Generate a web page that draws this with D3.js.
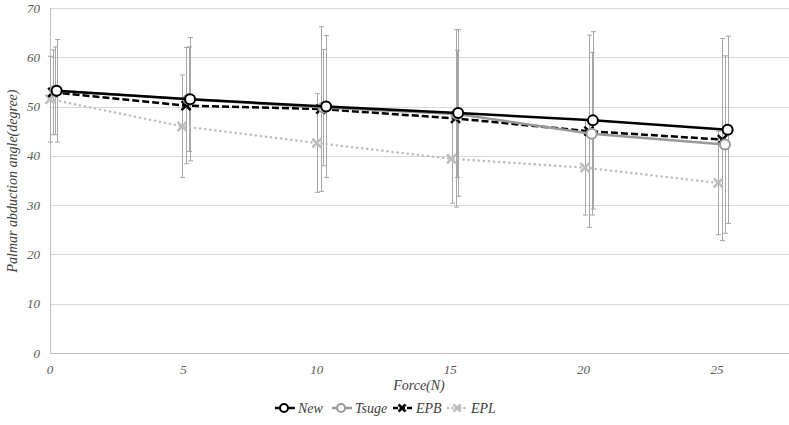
<!DOCTYPE html>
<html><head><meta charset="utf-8">
<script src="https://cdn.jsdelivr.net/npm/d3@7/dist/d3.min.js"></script>
<style>body{margin:0;background:#fff}svg{display:block}</style>
</head><body>
<svg id="c" width="789" height="425"></svg>
<script>
const seriesNames = ["New", "Tsuge", "EPB", "EPL"];
const xTicks = [0, 5, 10, 15, 20, 25];
const yTicks = [0, 10, 20, 30, 40, 50, 60, 70];
const newX = [0.25, 5.25, 10.35, 15.3, 20.35, 25.4];
const newY = [53.2, 51.5, 50.0, 48.7, 47.2, 45.3];
const newErr = [10.4, 12.5, 14.4, 16.9, 18.0, 19.0];
const tsugeX = [0.2, 5.2, 10.25, 15.25, 20.3, 25.3];
const tsugeY = [53.2, 51.5, 49.8, 48.5, 44.5, 42.3];
const tsugeErr = [8.9, 10.6, 11.8, 12.9, 16.5, 18.0];
const epbX = [0.1, 5.1, 10.15, 15.2, 20.2, 25.2];
const epbY = [52.9, 50.2, 49.5, 47.6, 45.0, 43.3];
const epbErr = [8.6, 11.8, 16.7, 18.0, 19.5, 20.5];
const eplX = [0.0, 4.95, 10.0, 15.05, 20.05, 25.05];
const eplY = [51.5, 46.0, 42.6, 39.4, 37.6, 34.5];
const eplErr = [8.7, 10.4, 10.0, 9.0, 9.6, 10.5];

const FONT = "'Times New Roman', 'Liberation Serif', 'DejaVu Serif', 'Noto Serif', serif";
const svg = d3.select("#c");
const x = d3.scaleLinear().domain([0, 27.7]).range([50, 789]);
const y = d3.scaleLinear().domain([0, 70]).range([353, 8]);
function txt(sel) {
  return sel.attr("font-family", FONT).attr("font-style", "italic");
}

svg.append("g").selectAll("line").data(yTicks.filter(d => d > 0)).join("line")
  .attr("x1", x(0)).attr("x2", 789).attr("y1", d => Math.round(y(d)) + 0.5).attr("y2", d => Math.round(y(d)) + 0.5)
  .attr("stroke", "#d9d9d9").attr("stroke-width", 1);
svg.append("line").attr("x1", x(0)).attr("x2", 789).attr("y1", y(0) + 0.5).attr("y2", y(0) + 0.5).attr("stroke", "#bfbfbf");
svg.append("line").attr("x1", x(0) + 0.5).attr("x2", x(0) + 0.5).attr("y1", y(0)).attr("y2", y(70)).attr("stroke", "#bfbfbf");

txt(svg.append("g").selectAll("text").data(yTicks).join("text")
  .attr("x", 40).attr("y", d => y(d) + 4.5).attr("text-anchor", "end")
  .attr("font-size", 13).attr("fill", "#595959").text(d => d));
txt(svg.append("g").selectAll("text").data(xTicks).join("text")
  .attr("x", d => x(d)).attr("y", 374).attr("text-anchor", "middle")
  .attr("font-size", 13).attr("fill", "#595959").text(d => d));
txt(svg.append("text").attr("x", 419).attr("y", 390).attr("text-anchor", "middle")
  .attr("font-size", 14).attr("fill", "#404040").text("Force(N)"));
txt(svg.append("text").attr("transform", "translate(17,181) rotate(-90)").attr("text-anchor", "middle")
  .attr("font-size", 14).attr("fill", "#404040").text("Palmar abduction angle(degree)"));

const series = [
  {name: "New", xs: newX, ys: newY, es: newErr, color: "#000000", dash: null, marker: "circle"},
  {name: "Tsuge", xs: tsugeX, ys: tsugeY, es: tsugeErr, color: "#999999", dash: null, marker: "circle"},
  {name: "EPB", xs: epbX, ys: epbY, es: epbErr, color: "#000000", dash: "7,3", marker: "x"},
  {name: "EPL", xs: eplX, ys: eplY, es: eplErr, color: "#bdbdbd", dash: "0.1,5", marker: "x"}
];

series.forEach(s => {
  const g = svg.append("g").attr("stroke", "#a6a6a6").attr("stroke-width", 1);
  s.xs.forEach((xv, i) => {
    const xp = Math.round(x(xv)) + 0.5;
    const t = y(s.ys[i] + s.es[i]), b = y(s.ys[i] - s.es[i]);
    g.append("line").attr("x1", xp).attr("x2", xp).attr("y1", t).attr("y2", b);
    g.append("line").attr("x1", xp - 2.5).attr("x2", xp + 2.5).attr("y1", t).attr("y2", t);
    g.append("line").attr("x1", xp - 2.5).attr("x2", xp + 2.5).attr("y1", b).attr("y2", b);
  });
});

const line = d3.line().x(d => x(d[0])).y(d => y(d[1]));
function drawMarker(g, s, cx, cy, r) {
  if (s.marker === "circle") {
    g.append("circle").attr("cx", cx).attr("cy", cy).attr("r", r)
      .attr("fill", "#fff").attr("stroke", s.color).attr("stroke-width", 2);
  } else {
    const q = r - 0.5;
    g.append("path").attr("d", `M${cx - q},${cy - q}L${cx + q},${cy + q}M${cx - q},${cy + q}L${cx + q},${cy - q}`)
      .attr("stroke", s.color).attr("stroke-width", 2.5).attr("fill", "none");
  }
}
[3, 2, 1, 0].forEach(k => {
  const s = series[k];
  const pts = s.xs.map((xv, i) => [xv, s.ys[i]]);
  svg.append("path").attr("d", line(pts)).attr("fill", "none").attr("stroke", s.color)
    .attr("stroke-width", 2.5).attr("stroke-dasharray", s.dash)
    .attr("stroke-linecap", s.name === "EPL" ? "round" : "butt");
  const g = svg.append("g");
  pts.forEach(p => drawMarker(g, s, x(p[0]), y(p[1]), 5));
});

const legX = [275, 332, 393, 448];
series.forEach((s, i) => {
  const lx = legX[i], ly = 408;
  svg.append("line").attr("x1", lx).attr("x2", lx + 20).attr("y1", ly).attr("y2", ly)
    .attr("stroke", s.color).attr("stroke-width", 2.5).attr("stroke-dasharray", s.name === "EPL" ? "0.1,4" : (s.dash ? "5,2" : null))
    .attr("stroke-linecap", s.name === "EPL" ? "round" : "butt");
  const g = svg.append("g");
  drawMarker(g, s, lx + 9, ly, 4);
  txt(svg.append("text").attr("x", lx + 23).attr("y", ly + 5)
    .attr("font-size", 14).attr("fill", "#404040").text(s.name));
});
</script>
</body></html>
